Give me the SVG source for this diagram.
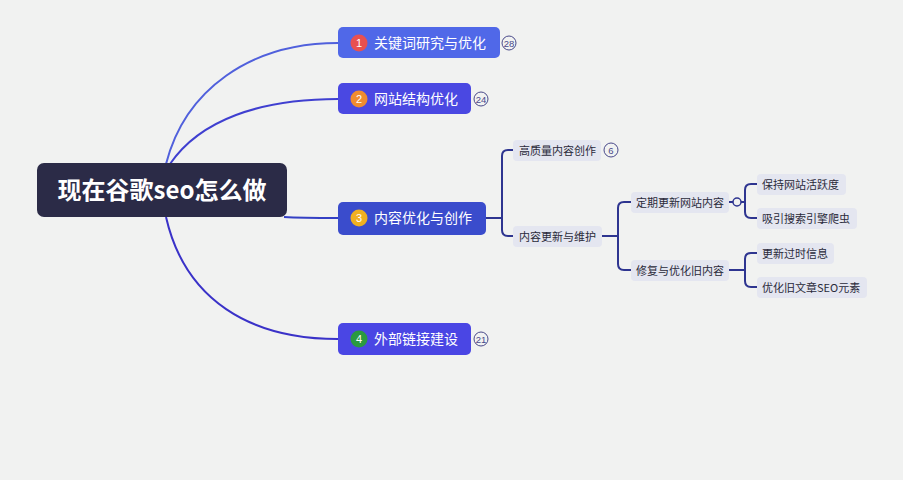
<svg xmlns="http://www.w3.org/2000/svg" width="903" height="480" viewBox="0 0 903 480">
<style>
.bg{fill:#f1f2f1}
.root{fill:#2b2b47}
.roott{font-family:"Noto Sans CJK SC","Liberation Sans",sans-serif;font-size:24px;font-weight:bold;fill:#fff}
.bt{font-family:"Noto Sans CJK SC","Liberation Sans",sans-serif;font-size:14px;fill:#fff}
.num{font-family:"Liberation Sans",sans-serif;font-size:11px;fill:#fff;text-anchor:middle}
.cnt{fill:none;stroke:#4a4a8a;stroke-width:1}
.cntt{font-family:"Liberation Sans",sans-serif;font-size:9.5px;fill:#4a4a8a;text-anchor:middle}
.sub{fill:#e4e6f0}
.st{font-family:"Noto Sans CJK SC","Liberation Sans",sans-serif;font-size:11px;fill:#2a2a3a}
.ln{fill:none;stroke:#2e3590;stroke-width:2}
</style>
<rect class="bg" x="0" y="0" width="903" height="480"/>
<g id="connectors">
<path d="M166,164 C185,90 250,43 338,43" fill="none" stroke="#5060dc" stroke-width="2"/>
<path d="M170,164 C200,120 260,99 338,99" fill="none" stroke="#3f3fd0" stroke-width="2"/>
<path d="M284,217 C300,218 320,218 338,218" fill="none" stroke="#3440c4" stroke-width="2"/>
<path d="M166,217 C185,300 250,339 338,339" fill="none" stroke="#3a32c8" stroke-width="2"/>
<path class="ln" d="M486,218 H502 M513,150 H508 Q502,150 502,156 V230 Q502,236 508,236 H513"/>
<path class="ln" d="M602,236 H618 M631,202 H624 Q618,202 618,208 V264 Q618,270 624,270 H631"/>
<path class="ln" d="M729,202 H733 M741,202 H745 M757,184 H751 Q745,184 745,190 V212 Q745,218 751,218 H757"/>
<circle cx="737" cy="202" r="4" fill="#f1f2f1" stroke="#2e3590" stroke-width="1.5"/>
<path class="ln" d="M729,270 H745 M757,253 H751 Q745,253 745,259 V281 Q745,287 751,287 H757"/>
</g>
<g id="root">
<rect class="root" x="37" y="163" width="250" height="54" rx="7"/>
<text class="roott" x="162" y="199" text-anchor="middle">现在谷歌seo怎么做</text>
</g>
<g id="b1">
<rect x="338" y="27" width="162" height="31" rx="5" fill="#5068e8"/>
<circle cx="359" cy="43" r="8.5" fill="#e85050"/>
<text class="num" x="359" y="47">1</text>
<text class="bt" x="374" y="48">关键词研究与优化</text>
<circle class="cnt" cx="509" cy="43" r="7"/>
<text class="cntt" x="509" y="46.5">28</text>
</g>
<g id="b2">
<rect x="338" y="83" width="133" height="31" rx="5" fill="#4a48e2"/>
<circle cx="359" cy="99" r="8.5" fill="#f08c30"/>
<text class="num" x="359" y="103">2</text>
<text class="bt" x="374" y="104">网站结构优化</text>
<circle class="cnt" cx="481" cy="99" r="7"/>
<text class="cntt" x="481" y="102.5">24</text>
</g>
<g id="b3">
<rect x="338" y="202" width="148" height="33" rx="5" fill="#3a4ccc"/>
<circle cx="359" cy="218" r="8.5" fill="#f0b020"/>
<text class="num" x="359" y="222">3</text>
<text class="bt" x="374" y="223">内容优化与创作</text>
</g>
<g id="b4">
<rect x="338" y="323" width="133" height="32" rx="5" fill="#4a46e4"/>
<circle cx="359" cy="339" r="8.5" fill="#2a9a40"/>
<text class="num" x="359" y="343">4</text>
<text class="bt" x="374" y="344">外部链接建设</text>
<circle class="cnt" cx="481" cy="339" r="7"/>
<text class="cntt" x="481" y="342.5">21</text>
</g>
<g id="s1">
<rect class="sub" x="513" y="140" width="88" height="21" rx="4"/>
<text class="st" x="519" y="154.5">高质量内容创作</text>
<circle class="cnt" cx="611" cy="150" r="7"/>
<text class="cntt" x="611" y="153.5">6</text>
</g>
<g id="s2">
<rect class="sub" x="513" y="226" width="89" height="21" rx="4"/>
<text class="st" x="519" y="240.5">内容更新与维护</text>
</g>
<g id="s21">
<rect class="sub" x="631" y="192" width="98" height="21" rx="4"/>
<text class="st" x="636" y="206.5">定期更新网站内容</text>
</g>
<g id="s22">
<rect class="sub" x="631" y="260" width="98" height="21" rx="4"/>
<text class="st" x="636" y="274.5">修复与优化旧内容</text>
</g>
<g id="s211">
<rect class="sub" x="757" y="174" width="89" height="21" rx="4"/>
<text class="st" x="762" y="188.5">保持网站活跃度</text>
</g>
<g id="s212">
<rect class="sub" x="757" y="208" width="100" height="21" rx="4"/>
<text class="st" x="762" y="222.5">吸引搜索引擎爬虫</text>
</g>
<g id="s221">
<rect class="sub" x="757" y="243" width="77" height="21" rx="4"/>
<text class="st" x="762" y="257.5">更新过时信息</text>
</g>
<g id="s222">
<rect class="sub" x="757" y="277" width="110" height="21" rx="4"/>
<text class="st" x="762" y="291.5">优化旧文章SEO元素</text>
</g>
</svg>
